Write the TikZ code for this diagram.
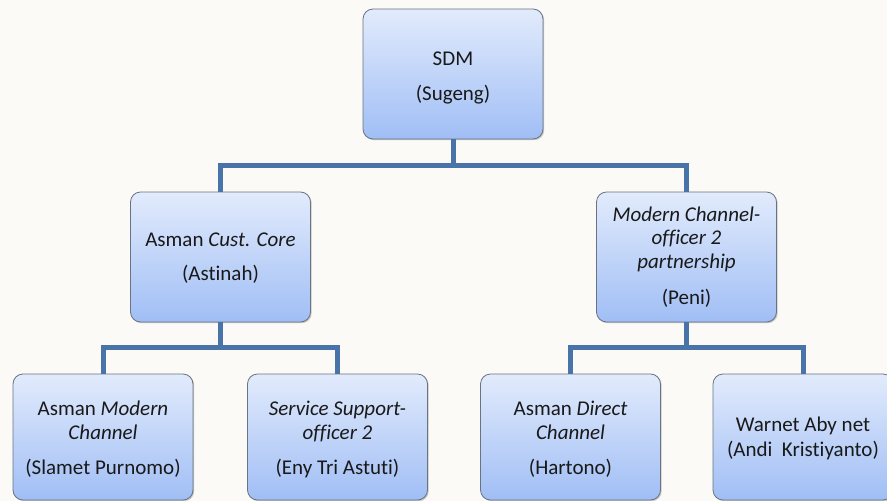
\documentclass[tikz,border=0pt]{standalone}
\usepackage{fontspec}
\setmainfont{Carlito}[Ligatures={NoCommon}]
\usetikzlibrary{shadows}
\definecolor{bg}{RGB}{251,250,247}
\definecolor{boxtop}{RGB}{226,235,252}
\definecolor{boxbot}{RGB}{160,190,245}
\definecolor{boxline}{RGB}{105,115,130}
\definecolor{connc}{RGB}{72,116,168}
\definecolor{txtc}{RGB}{25,25,25}
\begin{document}
\begin{tikzpicture}[x=1pt,y=-1pt,
  box/.style={draw=boxline, line width=0.8pt, rounded corners=10pt,
    top color=boxtop, bottom color=boxbot, minimum width=180pt,
    minimum height=130pt, inner sep=0pt,
    drop shadow={shadow xshift=1.2pt, shadow yshift=-1.2pt, opacity=0.35, fill=black!60}},
  lowbox/.style={box, minimum height=126pt},
  txt/.style={anchor=base, font=\fontsize{21}{24}\selectfont, text=txtc, inner sep=0pt},
  connline/.style={draw=connc, line width=5pt, line join=miter}]
\fill[bg] (0,0) rectangle (887,501);
\useasboundingbox (0,0) rectangle (887,501);
\clip (0,0) rectangle (887,501);

% boxes
\node[box] (sdm) at (453,74) {};
\node[box] (c1) at (220.5,257) {};
\node[box] (c2) at (686.5,257) {};
\node[lowbox] (d1) at (103,437) {};
\node[lowbox] (d2) at (337.5,437) {};
\node[lowbox] (d3) at (570.5,437) {};
\node[lowbox] (d4) at (803,437) {};

% connectors
\draw[connline] (sdm.south) -- ++(0,26) coordinate (j1);
\draw[connline] (j1) -| (c1.north);
\draw[connline] (j1) -| (c2.north);
\draw[connline] (c1.south) -- ++(0,25) coordinate (j2);
\draw[connline] (j2) -| (d1.north);
\draw[connline] (j2) -| (d2.north);
\draw[connline] (c2.south) -- ++(0,25) coordinate (j3);
\draw[connline] (j3) -| (d3.north);
\draw[connline] (j3) -| (d4.north);

% texts
\node[txt] (t1) at (453,65) {SDM};
\node[txt] (t2) at (453,100) {(Sugeng)};

\node[txt] (t3) at (220.5,246) {Asman \textit{Cust. Core}};
\node[txt] (t4) at (220.5,280) {(Astinah)};

\node[txt] (t5) at (686.5,221) {\textit{Modern Channel-}};
\node[txt] (t6) at (686.5,244) {\textit{officer 2}};
\node[txt] (t7) at (686.5,268) {\textit{partnership}};
\node[txt] (t8) at (686.5,304) {(Peni)};

\node[txt] (t9) at (103,415) {Asman \textit{Modern}};
\node[txt] (t10) at (103,439) {\textit{Channel}};
\node[txt] (t11) at (103,474) {(Slamet Purnomo)};

\node[txt] (t12) at (337.5,415) {\textit{Service Support-}};
\node[txt] (t13) at (337.5,439) {\textit{officer 2}};
\node[txt] (t14) at (337.5,474) {(Eny Tri Astuti)};

\node[txt] (t15) at (570.5,415) {Asman \textit{Direct}};
\node[txt] (t16) at (570.5,439) {\textit{Channel}};
\node[txt] (t17) at (570.5,474) {(Hartono)};

\node[txt] (t18) at (803,431) {Warnet Aby net};
\node[txt] (t19) at (803,456) {(Andi\ \ Kristiyanto)};
\end{tikzpicture}
\end{document}
